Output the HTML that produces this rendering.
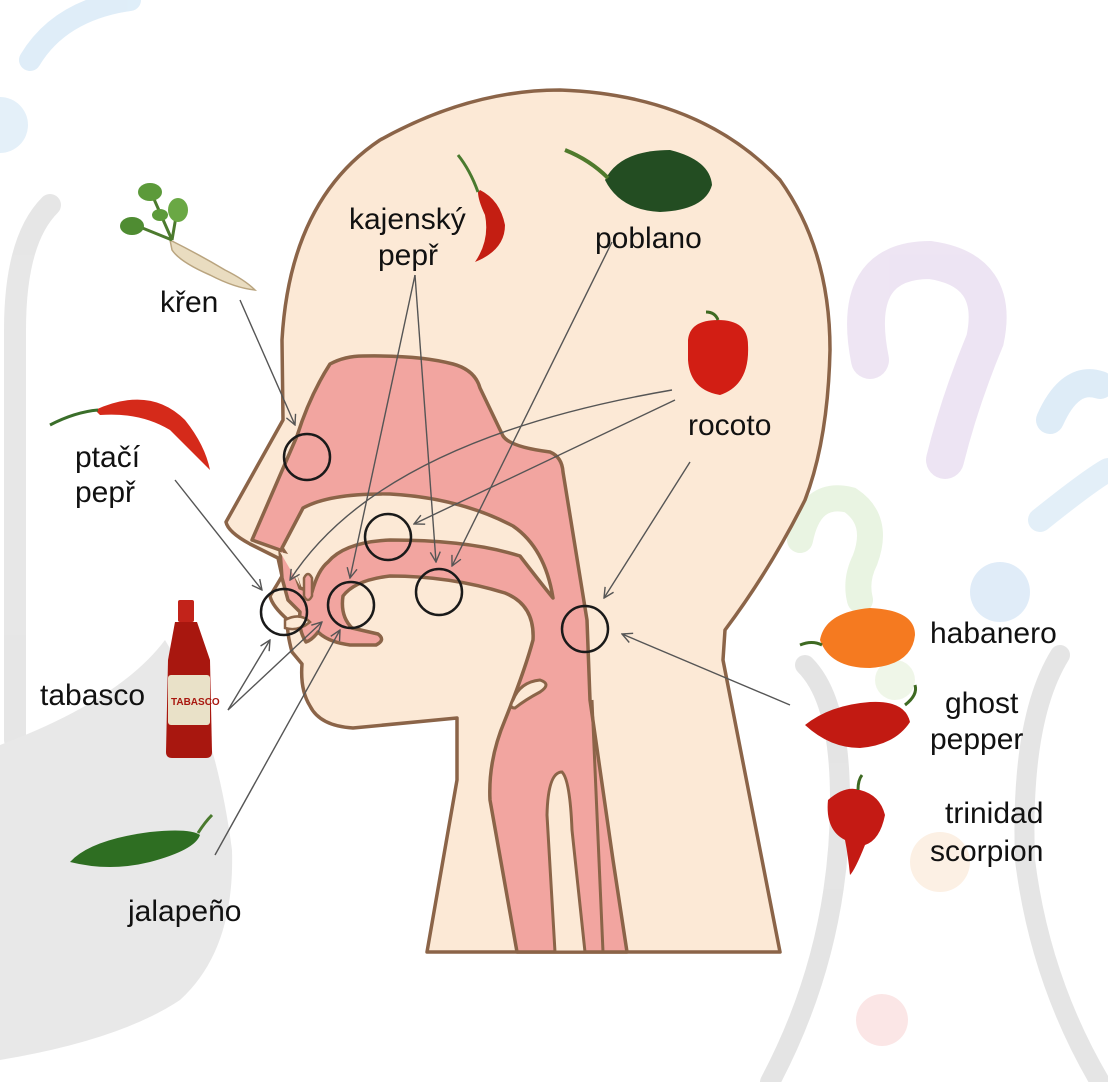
<!DOCTYPE html>
<html><head><meta charset="utf-8"><style>
html,body{margin:0;padding:0;background:#fff;}
svg{display:block;}
text{font-family:"Liberation Sans",Arial,sans-serif;font-size:30px;fill:#111;}
</style></head><body>
<svg width="1108" height="1082" viewBox="0 0 1108 1082" xmlns="http://www.w3.org/2000/svg">
<defs>
<marker id="a" viewBox="0 0 12 12" refX="11" refY="6" markerWidth="12" markerHeight="12" markerUnits="userSpaceOnUse" orient="auto">
<path d="M1,1 L11,6 L1,11" fill="none" stroke="#555" stroke-width="1.4"/></marker>
</defs>
<g opacity="0.9">
<path d="M30,60 Q60,10 130,0" stroke="#dcecf8" stroke-width="22" fill="none" stroke-linecap="round"/>
<circle cx="0" cy="125" r="28" fill="#e2eff9"/>
<path d="M50,205 Q15,240 15,330 L15,740" stroke="#e4e4e4" stroke-width="22" fill="none" stroke-linecap="round"/>
<path d="M0,745 Q120,700 165,640 Q215,720 232,850 Q235,950 180,1000 Q120,1040 0,1060 Z" fill="#e6e6e6"/>
<path d="M870,360 Q850,260 930,260 Q1000,270 985,340 Q960,400 945,460" stroke="#ece2f2" stroke-width="38" fill="none" stroke-linecap="round"/>
<path d="M1050,420 Q1070,375 1100,385" stroke="#dbeaf7" stroke-width="28" fill="none" stroke-linecap="round"/>
<path d="M1040,520 Q1090,480 1108,470" stroke="#e1eef8" stroke-width="24" fill="none" stroke-linecap="round"/>
<path d="M800,540 Q810,490 850,500 Q880,520 865,560 Q855,580 860,600" stroke="#e7f3df" stroke-width="26" fill="none" stroke-linecap="round"/>
<circle cx="1000" cy="592" r="30" fill="#ddebf8"/>
<circle cx="940" cy="862" r="30" fill="#fcefe2"/>
<circle cx="882" cy="1020" r="26" fill="#fbe4e4"/>
<circle cx="895" cy="680" r="20" fill="#eef6e6"/>
<path d="M805,665 Q840,700 840,800 Q840,950 770,1082" stroke="#e2e2e2" stroke-width="20" fill="none" stroke-linecap="round"/>
<path d="M1060,655 Q1020,720 1025,860 Q1040,980 1100,1082" stroke="#e2e2e2" stroke-width="20" fill="none" stroke-linecap="round"/>
</g>
<path d="M427,952 L457,780 L457,718 L353,728 Q320,726 310,706 Q300,690 302,664 L292,652 Q286,630 288,620 Q272,606 270,596 Q280,580 282,576 L278,558 L250,544 Q228,532 226,522 L283,420 L282,340 Q290,200 380,140 Q470,90 560,90 Q700,95 780,180 Q830,250 830,350 Q828,440 805,500 Q770,570 725,630 L723,660 L780,952 Z" fill="#fce9d6" stroke="#8b6448" stroke-width="3.5" stroke-linejoin="round"/>
<path d="M252,540 L297,436 Q310,395 330,364 Q345,356 363,356 Q420,355 453,364 Q475,370 480,388 L503,436 Q510,447 550,452 Q562,457 563,472 L587,620 L590,700 L613,860 L627,952 L517,952 L490,800 Q488,760 505,720 Q525,670 533,640 Q535,605 505,593 Q450,576 390,576 Q355,580 343,596 Q340,616 352,628 L378,634 Q386,640 376,645 L350,645 Q328,642 318,632 Q312,640 306,642 Q298,630 300,612 L288,600 L282,578 L280,550 Z" fill="#f2a5a0" stroke="#8b6448" stroke-width="3.5" stroke-linejoin="round"/>
<path d="M282,548 L303,508 Q330,493 390,494 Q460,498 513,526 Q545,548 553,598 Q540,582 520,556 Q470,540 390,540 Q345,542 328,562 Q318,570 312,592 L300,588 L290,560 Z" fill="#fce9d6" stroke="#8b6448" stroke-width="3.5" stroke-linejoin="round"/>
<path d="M280,552 L300,586 L292,555 Z" fill="#fce9d6"/>
<path d="M304,578 Q308,570 312,578 L312,596 Q308,604 304,596 Z" fill="#f2a5a0" stroke="#8b6448" stroke-width="2.5"/>
<path d="M285,620 Q300,612 310,622 Q298,632 285,628 Z" fill="#fce9d6" stroke="#8b6448" stroke-width="2.5"/>
<path d="M513,700 Q520,682 540,680 Q552,684 540,692 Q525,700 515,708 Q508,708 513,700 Z" fill="#fce9d6" stroke="#8b6448" stroke-width="3"/>
<path d="M555,952 L547,815 Q548,772 562,772 Q570,780 572,830 L585,952 Z" fill="#fce9d6" stroke="#8b6448" stroke-width="3"/>
<path d="M592,700 L603,952" stroke="#8b6448" stroke-width="3" fill="none"/>
<g fill="none" stroke="#1a1a1a" stroke-width="2.5">
<circle cx="307" cy="457" r="23"/>
<circle cx="388" cy="537" r="23"/>
<circle cx="439" cy="592" r="23"/>
<circle cx="351" cy="605" r="23"/>
<circle cx="284" cy="612" r="23"/>
<circle cx="585" cy="629" r="23"/>
</g>
<g stroke="#555" stroke-width="1.4" fill="none" marker-end="url(#a)">
<path d="M240,300 L295,425"/>
<path d="M175,480 L262,590"/>
<path d="M415,275 L350,578"/>
<path d="M415,275 L436,562"/>
<path d="M612,242 L452,566"/>
<path d="M672,390 Q380,440 290,580"/>
<path d="M675,400 L414,524"/>
<path d="M690,462 L604,598"/>
<path d="M790,705 L622,634"/>
<path d="M228,710 L270,640"/>
<path d="M228,710 L322,622"/>
<path d="M215,855 L340,630"/>
</g>
<text x="160" y="312">křen</text>
<text x="75" y="467">ptačí</text>
<text x="75" y="502">pepř</text>
<text x="349" y="229">kajenský</text>
<text x="378" y="265">pepř</text>
<text x="595" y="248">poblano</text>
<text x="688" y="435">rocoto</text>
<text x="40" y="705">tabasco</text>
<text x="128" y="921">jalapeño</text>
<text x="930" y="643">habanero</text>
<text x="945" y="713">ghost</text>
<text x="930" y="749">pepper</text>
<text x="945" y="823">trinidad</text>
<text x="930" y="861">scorpion</text>
<g>
<path d="M170,240 Q200,255 225,270 Q245,280 255,290 Q235,288 210,275 Q180,262 172,250 Z" fill="#e9dcc0" stroke="#b9a47f" stroke-width="1.5"/>
<path d="M172,240 L150,190 M172,240 L178,205 M172,240 L135,225" stroke="#4c7a2e" stroke-width="3"/>
<ellipse cx="150" cy="192" rx="12" ry="9" fill="#5c9a3a"/>
<ellipse cx="178" cy="210" rx="10" ry="12" fill="#6aa844"/>
<ellipse cx="132" cy="226" rx="12" ry="9" fill="#4f8c32"/>
<ellipse cx="160" cy="215" rx="8" ry="6" fill="#5c9a3a"/>
</g>
<path d="M95,410 Q150,385 185,420 Q205,445 210,470 Q190,450 170,430 Q140,412 100,415 Z" fill="#d52a1a"/>
<path d="M50,425 Q75,412 98,410" stroke="#3a6e2a" stroke-width="3" fill="none"/>
<path d="M480,190 Q500,200 505,225 Q505,250 475,262 Q490,240 485,215 Q478,200 478,192 Z" fill="#c41e12"/>
<path d="M478,192 Q470,170 458,155" stroke="#4a7a2e" stroke-width="3" fill="none"/>
<path d="M605,180 Q620,150 670,150 Q710,160 712,185 Q705,210 660,212 Q620,210 605,180 Z" fill="#234d22"/>
<path d="M565,150 Q590,160 608,178" stroke="#4f7a2c" stroke-width="4" fill="none"/>
<path d="M688,340 Q690,320 718,320 Q748,320 748,345 Q750,385 720,395 Q690,390 688,360 Z" fill="#d21e14"/>
<path d="M718,320 Q715,312 706,312" stroke="#3e6a22" stroke-width="3" fill="none"/>
<rect x="178" y="600" width="16" height="22" rx="2" fill="#c2231a"/>
<path d="M175,622 L197,622 L210,660 L212,752 Q212,758 206,758 L172,758 Q166,758 166,752 L168,660 Z" fill="#a8170f"/>
<rect x="168" y="675" width="42" height="50" rx="3" fill="#e9e1c8"/>
<text x="171" y="705" style="font-size:10px;fill:#a8170f;font-weight:bold">TABASCO</text>
<path d="M70,862 Q90,840 150,832 Q190,828 200,835 Q195,850 150,862 Q110,872 70,862 Z" fill="#2e6e22"/>
<path d="M198,833 Q205,822 212,815" stroke="#4a7a2e" stroke-width="3" fill="none"/>
<path d="M820,640 Q825,612 870,608 Q915,610 915,635 Q912,665 870,668 Q830,668 820,640 Z" fill="#f57a20"/>
<path d="M800,645 Q812,640 822,645" stroke="#3e6a22" stroke-width="3" fill="none"/>
<path d="M805,725 Q830,705 870,702 Q905,700 910,722 Q895,745 860,748 Q830,748 805,725 Z" fill="#c21a12"/>
<path d="M905,705 Q918,695 915,685" stroke="#3e6a22" stroke-width="3" fill="none"/>
<path d="M828,800 Q845,785 860,790 Q880,795 885,815 Q880,840 865,845 Q855,870 850,875 Q848,855 845,840 Q825,830 828,800 Z" fill="#c41a14"/>
<path d="M858,790 Q858,780 862,775" stroke="#3e6a22" stroke-width="3" fill="none"/>
</svg>
</body></html>
